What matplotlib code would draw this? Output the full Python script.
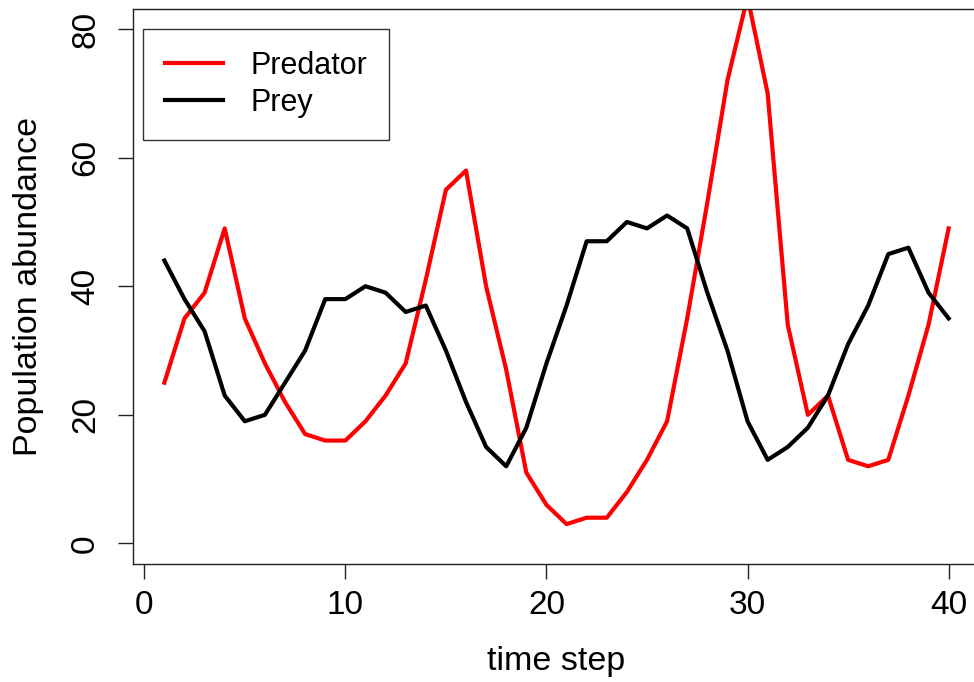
import numpy as np
import matplotlib
matplotlib.use("Agg")
import matplotlib.pyplot as plt

time_step = np.arange(1, 41)
predator = [25, 35, 39, 49, 35, 28, 22, 17, 16, 16,
            19, 23, 28, 41, 55, 58, 40, 27, 11, 6,
            3, 4, 4, 8, 13, 19, 35, 53, 72, 85,
            70, 34, 20, 23, 13, 12, 13, 23, 34, 49]
prey = [44, 38, 33, 23, 19, 20, 25, 30, 38, 38,
        40, 39, 36, 37, 30, 22, 15, 12, 18, 28,
        37, 47, 47, 50, 49, 51, 49, 39, 30, 19,
        13, 15, 18, 23, 31, 37, 45, 46, 39, 35]

plt.rcParams['font.family'] = ['Liberation Sans', 'DejaVu Sans']

fig = plt.figure(figsize=(9.74, 6.82), dpi=100)
ax = fig.add_axes([133/974, 1 - 564/682, (980 - 133)/974, (564 - 8.5)/682])

ax.plot(time_step, predator, '-', color='red', lw=3, label='Predator')
ax.plot(time_step, prey, '-', color='black', lw=3, label='Prey')

# R style ranges: 4% padding around data / ylim=c(0,80)
ax.set_xlim(1 - 0.04*39, 40 + 0.04*39)
ax.set_ylim(0 - 0.04*80, 80 + 0.04*80)
ax.set_xticks([0, 10, 20, 30, 40])
ax.set_yticks([0, 20, 40, 60, 80])
ax.tick_params(direction='out', length=11, width=1, labelsize=24, color='#222222')
ax.tick_params(axis='x', pad=8)
ax.tick_params(axis='y', pad=12)
for lab in ax.get_yticklabels():
    lab.set_rotation(90)
    lab.set_va('center')
for s in ax.spines.values():
    s.set_linewidth(1)
    s.set_color('#222222')

ax.set_xlabel('time step', fontsize=24.5, labelpad=18)
ax.set_ylabel('Population abundance', fontsize=24.5, labelpad=19)

leg = ax.legend(loc='upper left', bbox_to_anchor=(0.0118, 0.963), borderaxespad=0,
                fontsize=22, frameon=True, fancybox=False, edgecolor='black',
                handlelength=1.9, handletextpad=0.9, labelspacing=0.22, borderpad=0.72)
leg.get_frame().set_linewidth(1)

fig.savefig('out.png', dpi=100)
